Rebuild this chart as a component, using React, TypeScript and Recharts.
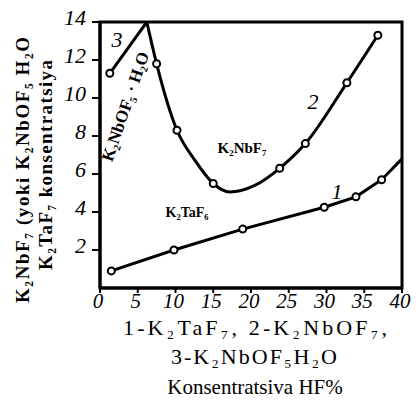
import React from 'react';
import { LineChart, Line, XAxis, YAxis, ReferenceArea } from 'recharts';

// Tick values
const xTicks = [0, 5, 10, 15, 20, 25, 30, 35, 40];
const yTicks = [2, 4, 6, 8, 10, 12, 14];

// Curve 1: K2TaF7
const c1X = [1.5, 9.8, 18.9, 29.7, 33.9, 37.3, 40];
const c1Y = [0.9, 2.0, 3.1, 4.25, 4.8, 5.7, 6.8];
const c1MarkX = [1.5, 9.8, 18.9, 29.7, 33.9, 37.3];
const c1MarkY = [0.9, 2.0, 3.1, 4.25, 4.8, 5.7];

// Curve 2: K2NbOF5
const c2X = [6.2, 7.5, 10.2, 12.6, 15, 17.2, 20.5, 23.8, 27.2, 32.7, 36.8];
const c2Y = [14, 11.8, 8.3, 6.7, 5.5, 5.05, 5.4, 6.3, 7.6, 10.8, 13.3];
const c2MarkX = [7.5, 10.2, 15, 23.8, 27.2, 32.7, 36.8];
const c2MarkY = [11.8, 8.3, 5.5, 6.3, 7.6, 10.8, 13.3];

// Curve 3: K2NbOF5·H2O
const c3X = [1.3, 6.2];
const c3Y = [11.3, 14];
const c3MarkX = [1.3];
const c3MarkY = [11.3];

const pts = (xs: number[], ys: number[]) => xs.map((x, i) => ({ x, y: ys[i] }));

const FONT = '"Liberation Serif", "Times New Roman", serif';
const markerDot = { r: 3.5, fill: '#fff', stroke: '#000', strokeWidth: 2 };

const XTick = (props: any) => {
  const { x, y, payload } = props;
  return (
    <text x={x - 2} y={y + 13} textAnchor="middle" fill="#000" fontFamily={FONT} fontStyle="italic" fontSize={21}>
      {payload.value}
    </text>
  );
};

const YTick = (props: any) => {
  const { x, y, payload } = props;
  return (
    <text x={x} y={y + 3} textAnchor="end" fill="#000" fontFamily={FONT} fontStyle="italic" fontSize={22}>
      {payload.value}
    </text>
  );
};

export default function App() {
  return (
    <div style={{ position: 'absolute', left: 0, top: 0, width: 418, height: 413, background: '#fff' }}>
      <LineChart width={418} height={413} margin={{ top: 22, right: 16, bottom: 95, left: 0 }}>
        <XAxis
          type="number"
          dataKey="x"
          domain={[0, 40]}
          ticks={xTicks}
          height={30}
          interval={0}
          allowDataOverflow
          axisLine={{ stroke: '#000', strokeWidth: 3 }}
          tickLine={{ stroke: '#000', strokeWidth: 2 }}
          tickSize={5}
          tickMargin={2}
          tick={<XTick />}
        />
        <YAxis
          type="number"
          dataKey="y"
          domain={[0, 14]}
          ticks={yTicks}
          width={100}
          interval={0}
          allowDataOverflow
          axisLine={{ stroke: '#000', strokeWidth: 3 }}
          tickLine={{ stroke: '#000', strokeWidth: 2 }}
          tickSize={8}
          tickMargin={6}
          tick={<YTick />}
        />
        <ReferenceArea x1={0} x2={40} y1={0} y2={14} fill="none" stroke="#000" strokeWidth={3} ifOverflow="visible" />
        <Line data={pts(c1X, c1Y)} dataKey="y" type="linear" stroke="#000" strokeWidth={3} dot={false} isAnimationActive={false} />
        <Line data={pts(c2X, c2Y)} dataKey="y" type="monotone" stroke="#000" strokeWidth={3} dot={false} isAnimationActive={false} />
        <Line data={pts(c3X, c3Y)} dataKey="y" type="linear" stroke="#000" strokeWidth={3} dot={false} isAnimationActive={false} />
        <Line data={pts(c1MarkX, c1MarkY)} dataKey="y" stroke="none" dot={markerDot} isAnimationActive={false} />
        <Line data={pts(c2MarkX, c2MarkY)} dataKey="y" stroke="none" dot={markerDot} isAnimationActive={false} />
        <Line data={pts(c3MarkX, c3MarkY)} dataKey="y" stroke="none" dot={markerDot} isAnimationActive={false} />
      </LineChart>
      <svg width={418} height={413} style={{ position: 'absolute', left: 0, top: 0, pointerEvents: 'none' }} fontFamily={FONT} fill="#000">
        {/* y-axis title */}
        <text transform="translate(25,170) rotate(-90)" textAnchor="middle" dominantBaseline="middle" fontSize={19} fontWeight="bold" textLength={266} lengthAdjust="spacing">
          K₂NbF₇ (yoki K₂NbOF₅ H₂O
        </text>
        <text transform="translate(48,165) rotate(-90)" textAnchor="middle" dominantBaseline="middle" fontSize={19} fontWeight="bold" textLength={210} lengthAdjust="spacing">
          K₂TaF₇ konsentratsiya
        </text>
        {/* curve labels */}
        <text x={117} y={47} textAnchor="middle" fontSize={22} fontStyle="italic">3</text>
        <text x={313} y={109} textAnchor="middle" fontSize={22} fontStyle="italic">2</text>
        <text x={337} y={199} textAnchor="middle" fontSize={22} fontStyle="italic">1</text>
        <text x={242} y={153} textAnchor="middle" fontSize={15} fontWeight="bold">K₂NbF₇</text>
        <text x={187} y={217} textAnchor="middle" fontSize={14} fontWeight="bold">K₂TaF₆</text>
        <text transform="translate(127,107) rotate(-71)" textAnchor="middle" dominantBaseline="middle" fontSize={17} fontWeight="bold">
          K₂NbOF₅ · H₂O
        </text>
        {/* bottom caption */}
        <text x={255} y={335} textAnchor="middle" fontSize={22} textLength={264} lengthAdjust="spacing">1-K₂TaF₇,  2-K₂NbOF₇,</text>
        <text x={254} y={364} textAnchor="middle" fontSize={22} textLength={166} lengthAdjust="spacing">3-K₂NbOF₅H₂O</text>
        <text x={255} y={394} textAnchor="middle" fontSize={21}>Konsentratsiva HF%</text>
      </svg>
    </div>
  );
}
